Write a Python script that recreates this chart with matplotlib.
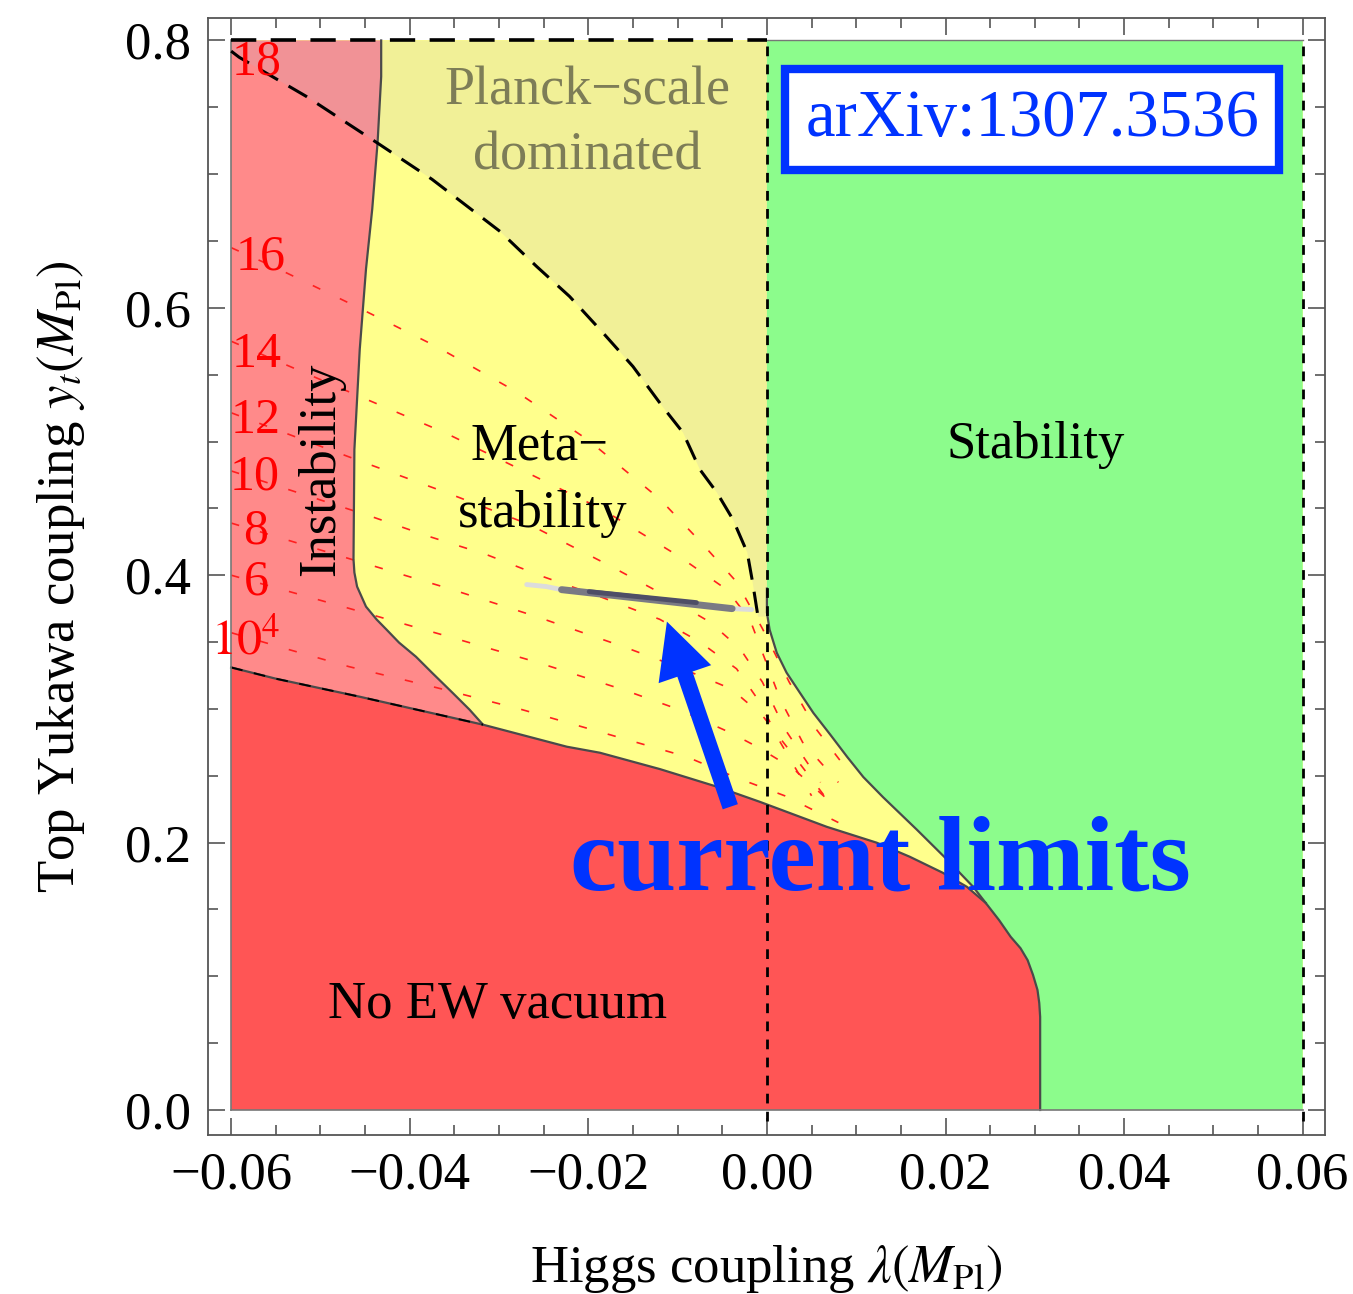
import matplotlib.pyplot as plt
from matplotlib.patches import Polygon

plt.rcParams['font.family'] = ['Liberation Serif', 'DejaVu Serif']
plt.rcParams['mathtext.fontset'] = 'stix'
plt.rcParams['font.size'] = 38

# plotted range of the scan (Higgs coupling, top Yukawa)
lam_range = [-0.06, 0.06]
yt_range = [0.0, 0.8]

# instability / meta-stability boundary
instab_x = [-0.0432, -0.0432, -0.0436, -0.0442, -0.0449, -0.0456, -0.0462, -0.0463,
            -0.0462, -0.0459, -0.0449, -0.0437, -0.0426, -0.0412, -0.0393, -0.0375,
            -0.0352, -0.0333, -0.0318]
instab_y = [0.800, 0.773, 0.724, 0.674, 0.629, 0.569, 0.494, 0.412,
            0.402, 0.3915, 0.3765, 0.3668, 0.3593, 0.3496, 0.339, 0.327,
            0.312, 0.2994, 0.2882]

# upper edge of the "no EW vacuum" region (ends where it meets the stability line)
noew_x = [-0.0600, -0.0550, -0.0493, -0.0456, -0.0318, -0.0224, -0.0187, -0.0120, -0.0056,
          -0.0008, 0.0067, 0.0123, 0.0160, 0.0197, 0.0224, 0.0245]
noew_y = [0.331, 0.3226, 0.3144, 0.3091, 0.2882, 0.2717, 0.2672, 0.2550, 0.2418,
          0.2305, 0.2118, 0.1999, 0.1894, 0.1774, 0.1669, 0.1549]

# stability boundary above and below the junction with the no-EW-vacuum edge
stab_up_x = [0.0, 0.0, 0.0, 0.0003, 0.0011, 0.0022, 0.0037, 0.0052, 0.0071, 0.0090,
             0.0108, 0.0130, 0.0168, 0.0202, 0.0231, 0.0245]
stab_up_y = [0.800, 0.390, 0.372, 0.3593, 0.342, 0.3271, 0.312, 0.297, 0.2807, 0.264,
             0.249, 0.234, 0.2096, 0.1871, 0.1669, 0.1549]
stab_lo_x = [0.0260, 0.0273, 0.0284, 0.0292, 0.0298, 0.0303, 0.0305, 0.0306, 0.0306]
stab_lo_y = [0.142, 0.1295, 0.121, 0.112, 0.101, 0.0898, 0.080, 0.0696, 0.0]

# Planck-scale dominated boundary (dashed)
planck_x = [-0.0600, -0.0591, -0.0516, -0.0434, -0.0375, -0.0299, -0.0258, -0.0221,
            -0.0184, -0.0150, -0.0117, -0.0094, -0.0075, -0.0056, -0.0038, -0.0022,
            -0.0016, -0.0010]
planck_y = [0.792, 0.7874, 0.7582, 0.7223, 0.6961, 0.6572, 0.6310, 0.6085,
            0.5816, 0.5561, 0.5262, 0.5067, 0.4790, 0.4618, 0.4416, 0.4169,
            0.3945, 0.3690]

# instability-scale contours (log10 of the scale in GeV)
c16_x = [-0.060, -0.055, -0.046, -0.037, -0.028, -0.020, -0.012, -0.0073, -0.0034, -0.0005, 0.0025, 0.0055, 0.0095]
c16_y = [0.645, 0.630, 0.601, 0.571, 0.537, 0.501, 0.457, 0.424, 0.395, 0.360, 0.320, 0.285, 0.250]
c14_x = [-0.060, -0.0456, -0.0361, -0.0271, -0.0184, -0.0098, -0.0045, -0.0019, -0.0002, 0.0015, 0.004, 0.008]
c14_y = [0.575, 0.5337, 0.5067, 0.4775, 0.4491, 0.4139, 0.3892, 0.3668, 0.3368, 0.307, 0.275, 0.245]
c12_x = [-0.060, -0.0454, -0.0359, -0.0266, -0.0174, -0.0120, -0.0064, -0.0030, -0.0005, 0.002, 0.006]
c12_y = [0.5215, 0.485, 0.4618, 0.4379, 0.4064, 0.387, 0.365, 0.345, 0.320, 0.285, 0.245]
c10_x = [-0.060, -0.0443, -0.0378, -0.0314, -0.0251, -0.0187, -0.0120, -0.0075, -0.0034, -0.0008, 0.0015, 0.005]
c10_y = [0.478, 0.4439, 0.4289, 0.4154, 0.399, 0.384, 0.367, 0.350, 0.330, 0.305, 0.275, 0.235]
c8_x = [-0.060, -0.0453, -0.0356, -0.0258, -0.0161, -0.0098, -0.0040, -0.0005, 0.003, 0.007]
c8_y = [0.439, 0.4094, 0.390, 0.369, 0.3466, 0.331, 0.315, 0.295, 0.265, 0.230]
c6_x = [-0.060, -0.0451, -0.0356, -0.0258, -0.0161, -0.0098, -0.0041, -0.0011, 0.003, 0.008]
c6_y = [0.400, 0.372, 0.354, 0.335, 0.3144, 0.2994, 0.2822, 0.2717, 0.255, 0.225]
c4_x = [-0.060, -0.0535, -0.0468, -0.0370, -0.0274, -0.0176, -0.0090, -0.0034, 0.002, 0.008]
c4_y = [0.357, 0.3443, 0.3316, 0.3159, 0.2994, 0.2807, 0.2642, 0.2485, 0.235, 0.215]

contour_labels = ['18', '16', '14', '12', '10', '8', '6', '$10^4$']
contour_label_x = [-0.0572, -0.0567, -0.0572, -0.0573, -0.0574, -0.0573, -0.0572, -0.0584]
contour_label_y = [0.7837, 0.6377, 0.5651, 0.5157, 0.4731, 0.4327, 0.3945, 0.3500]

# current experimental band
band_x = [-0.0269, -0.0247, -0.0230, -0.0039, -0.0017]
band_y = [0.393, 0.3915, 0.3892, 0.375, 0.3743]
band_core_x = [-0.0199, -0.0079]
band_core_y = [0.3877, 0.3795]

xticks = [-0.06, -0.04, -0.02, 0.0, 0.02, 0.04, 0.06]
xtick_labels = ['\u22120.06', '\u22120.04', '\u22120.02', '0.00', '0.02', '0.04', '0.06']
yticks = [0.0, 0.2, 0.4, 0.6, 0.8]
ytick_labels = ['0.0', '0.2', '0.4', '0.6', '0.8']

yellow = '#ffff8c'
pink = '#ff8a8a'
red = '#ff5555'
green = '#8cfc8c'
blue = '#0033ff'
edge = '#4a4a4a'

fig = plt.figure(figsize=(13.53, 12.94), dpi=100)
ax = fig.add_axes([0.1537, 0.1229, 0.8256, 0.8632])

x0, x1 = lam_range
y0, y1 = yt_range

# regions
ax.fill([x0, x1, x1, x0], [y0, y0, y1, y1], color=yellow, lw=0, zorder=1)
ax.fill([x0] + instab_x + [instab_x[-1], x0], [y1] + instab_y + [y0, y0],
        color=pink, lw=0, zorder=2)
ax.fill(noew_x + stab_lo_x + [x0], noew_y + stab_lo_y + [y0],
        color=red, lw=0, zorder=3)
ax.fill(stab_up_x + stab_lo_x + [x1, x1], stab_up_y + stab_lo_y + [y0, y1],
        color=green, lw=0, zorder=3)
ax.fill(planck_x + [0.0, 0.0, x0], planck_y + [planck_y[-1], y1, y1],
        color='#bcb4c8', alpha=0.2, lw=0, zorder=4)

# contours clipped to the region below the Planck line
clip_x = [x0] + planck_x + stab_up_x[3:] + noew_x[::-1]
clip_y = [noew_y[0]] + planck_y + stab_up_y[3:] + noew_y[::-1]
clip = Polygon(list(zip(clip_x, clip_y)), closed=True, transform=ax.transData)
for cx, cy in [(c16_x, c16_y), (c14_x, c14_y), (c12_x, c12_y), (c10_x, c10_y),
               (c8_x, c8_y), (c6_x, c6_y), (c4_x, c4_y)]:
    ln, = ax.plot(cx, cy, color='#ff2020', lw=1.2, dashes=(5, 13), zorder=5)
    ln.set_clip_path(clip)

# boundary lines
ax.plot(instab_x, instab_y, color=edge, lw=1.6, zorder=6)
ax.plot(noew_x, noew_y, color=edge, lw=1.6, zorder=6)
ax.plot(noew_x[:5], noew_y[:5], color='k', lw=1.4, dashes=(6, 6), zorder=6)
ax.plot(stab_up_x[1:] + stab_lo_x, stab_up_y[1:] + stab_lo_y, color=edge, lw=1.6, zorder=6)
ax.plot([x0, x0], [y0, y1], color='#777777', lw=1.2, zorder=6)
ax.plot([x0, x1], [y0, y0], color='#777777', lw=1.2, zorder=6)
ax.plot([0.0, x1], [y1, y1], color='#777777', lw=1.0, zorder=6)

# dashed lines
ax.plot(planck_x, planck_y, color='k', lw=2.2, dashes=(7, 4), zorder=7)
ax.plot([x0, 0.0], [y1, y1], color='k', lw=2.6, dashes=(7, 4), zorder=7)
ax.plot([0.0, 0.0], [-0.008, y1], color='k', lw=2.0, dashes=(3.5, 3), zorder=7)
ax.plot([x1, x1], [-0.008, y1], color='k', lw=2.0, dashes=(3.5, 3), zorder=7)

# current limits band
ax.plot(band_x, band_y, color='#dcdcdc', lw=3.5, solid_capstyle='round', zorder=7)
ax.plot(band_x[2:4], band_y[2:4], color='#7a7a84', lw=5, solid_capstyle='round', zorder=7)
ax.plot(band_core_x, band_core_y, color='#4e4e66', lw=3.5, solid_capstyle='round', zorder=7)

# contour labels
for lab, lx, ly in zip(contour_labels, contour_label_x, contour_label_y):
    ax.text(lx, ly, lab, color='#ff0000', fontsize=36, ha='center', va='center', zorder=8)

# region labels
ax.text(-0.0201, 0.7522, 'Planck\u2212scale', color='#7d7d57', fontsize=39, ha='center', va='baseline', zorder=8)
ax.text(-0.0201, 0.7036, 'dominated', color='#7d7d57', fontsize=39, ha='center', va='baseline', zorder=8)
ax.text(-0.0255, 0.4865, 'Meta\u2212', ha='center', va='baseline', zorder=8)
ax.text(-0.0251, 0.4364, 'stability', ha='center', va='baseline', zorder=8)
ax.text(0.0301, 0.488, 'Stability', ha='center', va='baseline', zorder=8)
ax.text(-0.0302, 0.0689, 'No EW vacuum', ha='center', va='baseline', zorder=8)
ax.text(-0.0499, 0.4794, 'Instability', rotation=90, ha='center', va='center', zorder=8)

ax.text(0.0297, 0.741, 'arXiv:1307.3536', color=blue, fontsize=48, ha='center', va='center',
        zorder=9, bbox=dict(boxstyle='square,pad=0.3', fc='white', ec=blue, lw=6))

ax.text(0.0127, 0.1647, 'current limits', color=blue, fontsize=76.5, fontweight='bold',
        ha='center', va='baseline', zorder=9)
ax.annotate('', xy=(-0.0112, 0.3653), xytext=(-0.0041, 0.2268),
            arrowprops=dict(width=11.5, headwidth=40, headlength=40, shrink=0,
                            facecolor=blue, edgecolor='none'), zorder=9)

# axes styling
ax.set_xlim(-0.0626, 0.0625)
ax.set_ylim(-0.0187, 0.8168)
ax.set_xticks(xticks)
ax.set_xticklabels(xtick_labels)
ax.set_yticks(yticks)
ax.set_yticklabels(ytick_labels)
ax.set_xticks([v / 1000 for v in range(-60, 61, 5)], minor=True)
ax.set_yticks([v / 100 for v in range(0, 81, 5)], minor=True)
ax.tick_params(which='both', direction='in', top=True, right=True, color='#555555', width=1.2)
ax.tick_params(which='major', length=12, labelsize=38, pad=12)
ax.tick_params(which='minor', length=7)
for sp in ax.spines.values():
    sp.set_color('#555555')
    sp.set_linewidth(1.3)

ax.set_xlabel(r'Higgs coupling $\lambda(M_{\rm Pl})$', fontsize=38)
ax.set_ylabel(r'Top Yukawa coupling $y_t(M_{\rm Pl})$', fontsize=38)
ax.xaxis.set_label_coords(0.5, -0.0967)
ax.yaxis.set_label_coords(-0.108, 0.5)

fig.savefig('out.png', dpi=100)
